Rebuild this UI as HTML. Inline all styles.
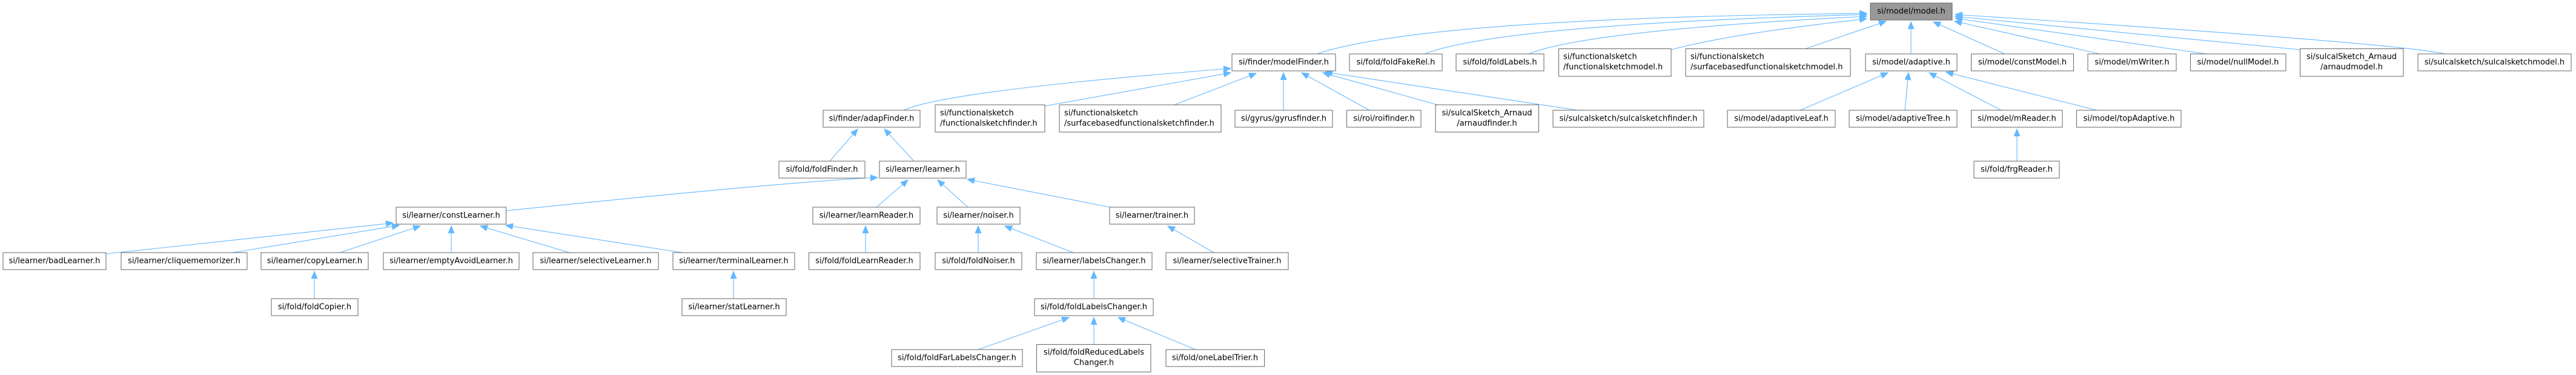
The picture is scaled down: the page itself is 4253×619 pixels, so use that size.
<!DOCTYPE html>
<html><head><meta charset="utf-8"><style>
html,body{margin:0;padding:0;background:#fff;}
svg{display:block;}
text{font-family:"DejaVu Sans","Liberation Sans",sans-serif;font-size:13px;fill:#000;}
rect{fill:#fff;stroke:#666;stroke-width:1;}
path.e{fill:none;stroke:#63b8ff;stroke-width:1.1;}
</style></head><body>
<svg width="4253" height="619" viewBox="0 0 4253 619" xmlns="http://www.w3.org/2000/svg">
<defs><marker id="a" markerUnits="userSpaceOnUse" markerWidth="14" markerHeight="12" refX="12" refY="5" orient="auto"><path d="M0,0 L12,5 L0,10 z" fill="#63b8ff" stroke="#63b8ff"/></marker></defs>
<g marker-end="url(#a)">
<!-- to model.h -->
<path class="e" d="M2174,89 Q2350,30 3082,22"/>
<path class="e" d="M2352,89 Q2480,40 3082,24"/>
<path class="e" d="M2524,89 Q2620,50 3082,27"/>
<path class="e" d="M2759,82 Q2860,55 3082,31"/>
<path class="e" d="M2982,80 L3114,35"/>
<path class="e" d="M3155,89 L3155,36"/>
<path class="e" d="M3310,89 L3192,36"/>
<path class="e" d="M3467,89 L3227,35"/>
<path class="e" d="M3643,89 L3228,30"/>
<path class="e" d="M3797,82 L3228,27"/>
<path class="e" d="M4037,89 Q3950,70 3228,24"/>
<!-- to modelFinder -->
<path class="e" d="M1492,182 Q1560,150 2032,113"/>
<path class="e" d="M1725,175 L2032,120"/>
<path class="e" d="M1939,173 L2074,121"/>
<path class="e" d="M2119,182 L2119,120"/>
<path class="e" d="M2261,182 L2149,120"/>
<path class="e" d="M2373,173 L2184,120"/>
<path class="e" d="M2605,182 L2188,119"/>
<!-- to adaptive -->
<path class="e" d="M2972,182 L3117,120"/>
<path class="e" d="M3145,182 L3151,120"/>
<path class="e" d="M3304,182 L3185,120"/>
<path class="e" d="M3462,182 L3213,119"/>
<path class="e" d="M3330,266 L3330,213"/>
<!-- adapFinder -->
<path class="e" d="M1370,266 L1416,213"/>
<path class="e" d="M1509,266 L1460,213"/>
<!-- learner -->
<path class="e" d="M835,348 Q1300,300 1449,293"/>
<path class="e" d="M1447,342 L1499,297"/>
<path class="e" d="M1598,342 L1548,297"/>
<path class="e" d="M1833,342 L1597,296"/>
<!-- constLearner -->
<path class="e" d="M175,419 L649,368"/>
<path class="e" d="M384,417 L659,372"/>
<path class="e" d="M561,417 L694,373"/>
<path class="e" d="M745,417 L745,373"/>
<path class="e" d="M940,417 L793,373"/>
<path class="e" d="M1127,417 L835,372"/>
<path class="e" d="M519,493 L519,448"/>
<path class="e" d="M1211,493 L1211,448"/>
<path class="e" d="M1429,417 L1429,373"/>
<path class="e" d="M1615,417 L1615,373"/>
<path class="e" d="M1772,417 L1659,373"/>
<path class="e" d="M2004,417 L1928,373"/>
<path class="e" d="M1806,493 L1806,448"/>
<path class="e" d="M1615,577 L1765,524"/>
<path class="e" d="M1806,568 L1806,524"/>
<path class="e" d="M1974,577 L1846,524"/>
</g>
<!-- nodes -->
<rect x="3088" y="5" width="135" height="28" style="fill:#999"/><text x="3155.5" y="19" text-anchor="middle" dominant-baseline="central">si/model/model.h</text>
<rect x="2034" y="89" width="171" height="28"/><text x="2119.5" y="103" text-anchor="middle" dominant-baseline="central">si/finder/modelFinder.h</text>
<rect x="2228" y="89" width="153" height="28"/><text x="2304.5" y="103" text-anchor="middle" dominant-baseline="central">si/fold/foldFakeRel.h</text>
<rect x="2404" y="89" width="145" height="28"/><text x="2476.5" y="103" text-anchor="middle" dominant-baseline="central">si/fold/foldLabels.h</text>
<rect x="2573.5" y="80.5" width="185.5" height="45.5"/><text x="2581" y="94" dominant-baseline="central">si/functionalsketch</text><text x="2581" y="111" dominant-baseline="central">/functionalsketchmodel.h</text>
<rect x="2783" y="80.5" width="272" height="45.5"/><text x="2791" y="94" dominant-baseline="central">si/functionalsketch</text><text x="2791" y="111" dominant-baseline="central">/surfacebasedfunctionalsketchmodel.h</text>
<rect x="3080" y="89" width="151" height="28"/><text x="3155.5" y="103" text-anchor="middle" dominant-baseline="central">si/model/adaptive.h</text>
<rect x="3254.5" y="89" width="169" height="28"/><text x="3339" y="103" text-anchor="middle" dominant-baseline="central">si/model/constModel.h</text>
<rect x="3447" y="89" width="146" height="28"/><text x="3520" y="103" text-anchor="middle" dominant-baseline="central">si/model/mWriter.h</text>
<rect x="3616.5" y="89" width="157.5" height="28"/><text x="3695" y="103" text-anchor="middle" dominant-baseline="central">si/model/nullModel.h</text>
<rect x="3797.5" y="80.5" width="170.5" height="45.5"/><text x="3882.5" y="94" text-anchor="middle" dominant-baseline="central">si/sulcalSketch_Arnaud</text><text x="3882.5" y="111" text-anchor="middle" dominant-baseline="central">/arnaudmodel.h</text>
<rect x="3992" y="89" width="253" height="28"/><text x="4118.5" y="103" text-anchor="middle" dominant-baseline="central">si/sulcalsketch/sulcalsketchmodel.h</text>

<rect x="1359" y="182" width="160" height="28"/><text x="1439" y="196" text-anchor="middle" dominant-baseline="central">si/finder/adapFinder.h</text>
<rect x="1544" y="173" width="181" height="45"/><text x="1552" y="187" dominant-baseline="central">si/functionalsketch</text><text x="1552" y="204" dominant-baseline="central">/functionalsketchfinder.h</text>
<rect x="1749" y="173" width="267" height="45"/><text x="1757" y="187" dominant-baseline="central">si/functionalsketch</text><text x="1757" y="204" dominant-baseline="central">/surfacebasedfunctionalsketchfinder.h</text>
<rect x="2039" y="182" width="161" height="28"/><text x="2119.5" y="196" text-anchor="middle" dominant-baseline="central">si/gyrus/gyrusfinder.h</text>
<rect x="2223.5" y="182" width="122.5" height="28"/><text x="2285" y="196" text-anchor="middle" dominant-baseline="central">si/roi/roifinder.h</text>
<rect x="2370" y="173" width="170.5" height="45"/><text x="2455" y="187" text-anchor="middle" dominant-baseline="central">si/sulcalSketch_Arnaud</text><text x="2455" y="204" text-anchor="middle" dominant-baseline="central">/arnaudfinder.h</text>
<rect x="2564" y="182" width="249" height="28"/><text x="2688.5" y="196" text-anchor="middle" dominant-baseline="central">si/sulcalsketch/sulcalsketchfinder.h</text>
<rect x="2852" y="182" width="178" height="28"/><text x="2941" y="196" text-anchor="middle" dominant-baseline="central">si/model/adaptiveLeaf.h</text>
<rect x="3053" y="182" width="178" height="28"/><text x="3142" y="196" text-anchor="middle" dominant-baseline="central">si/model/adaptiveTree.h</text>
<rect x="3254.5" y="182" width="150.5" height="28"/><text x="3330" y="196" text-anchor="middle" dominant-baseline="central">si/model/mReader.h</text>
<rect x="3428.5" y="182" width="172.5" height="28"/><text x="3515" y="196" text-anchor="middle" dominant-baseline="central">si/model/topAdaptive.h</text>

<rect x="1286" y="266" width="142" height="28"/><text x="1357" y="280" text-anchor="middle" dominant-baseline="central">si/fold/foldFinder.h</text>
<rect x="1452" y="266" width="143" height="28"/><text x="1523.5" y="280" text-anchor="middle" dominant-baseline="central">si/learner/learner.h</text>
<rect x="3259" y="266" width="141" height="28"/><text x="3329.5" y="280" text-anchor="middle" dominant-baseline="central">si/fold/frgReader.h</text>

<rect x="654" y="342" width="181.5" height="28"/><text x="745" y="356" text-anchor="middle" dominant-baseline="central">si/learner/constLearner.h</text>
<rect x="1342" y="342" width="177" height="28"/><text x="1430.5" y="356" text-anchor="middle" dominant-baseline="central">si/learner/learnReader.h</text>
<rect x="1547" y="342" width="137" height="28"/><text x="1615.5" y="356" text-anchor="middle" dominant-baseline="central">si/learner/noiser.h</text>
<rect x="1832" y="342" width="140" height="28"/><text x="1902" y="356" text-anchor="middle" dominant-baseline="central">si/learner/trainer.h</text>

<rect x="5" y="417" width="170" height="28"/><text x="90" y="431" text-anchor="middle" dominant-baseline="central">si/learner/badLearner.h</text>
<rect x="200" y="417" width="208" height="28"/><text x="304" y="431" text-anchor="middle" dominant-baseline="central">si/learner/cliquememorizer.h</text>
<rect x="431" y="417" width="177" height="28"/><text x="519.5" y="431" text-anchor="middle" dominant-baseline="central">si/learner/copyLearner.h</text>
<rect x="633" y="417" width="224" height="28"/><text x="745" y="431" text-anchor="middle" dominant-baseline="central">si/learner/emptyAvoidLearner.h</text>
<rect x="880" y="417" width="207" height="28"/><text x="983.5" y="431" text-anchor="middle" dominant-baseline="central">si/learner/selectiveLearner.h</text>
<rect x="1111" y="417" width="201" height="28"/><text x="1211.5" y="431" text-anchor="middle" dominant-baseline="central">si/learner/terminalLearner.h</text>
<rect x="1335.5" y="417" width="183.5" height="28"/><text x="1427" y="431" text-anchor="middle" dominant-baseline="central">si/fold/foldLearnReader.h</text>
<rect x="1544" y="417" width="143" height="28"/><text x="1615.5" y="431" text-anchor="middle" dominant-baseline="central">si/fold/foldNoiser.h</text>
<rect x="1711" y="417" width="191" height="28"/><text x="1806.5" y="431" text-anchor="middle" dominant-baseline="central">si/learner/labelsChanger.h</text>
<rect x="1925" y="417" width="202" height="28"/><text x="2026" y="431" text-anchor="middle" dominant-baseline="central">si/learner/selectiveTrainer.h</text>

<rect x="448" y="493" width="143" height="28"/><text x="519.5" y="507" text-anchor="middle" dominant-baseline="central">si/fold/foldCopier.h</text>
<rect x="1126" y="493" width="172" height="28"/><text x="1212" y="507" text-anchor="middle" dominant-baseline="central">si/learner/statLearner.h</text>
<rect x="1708" y="493" width="196" height="28"/><text x="1806" y="507" text-anchor="middle" dominant-baseline="central">si/fold/foldLabelsChanger.h</text>

<rect x="1472" y="577" width="216" height="28"/><text x="1580" y="591" text-anchor="middle" dominant-baseline="central">si/fold/foldFarLabelsChanger.h</text>
<rect x="1711.5" y="568.5" width="188.5" height="45.5"/><text x="1806" y="582" text-anchor="middle" dominant-baseline="central">si/fold/foldReducedLabels</text><text x="1806" y="599" text-anchor="middle" dominant-baseline="central">Changer.h</text>
<rect x="1925" y="577" width="162.5" height="28"/><text x="2006" y="591" text-anchor="middle" dominant-baseline="central">si/fold/oneLabelTrier.h</text>
</svg>
</body></html>
